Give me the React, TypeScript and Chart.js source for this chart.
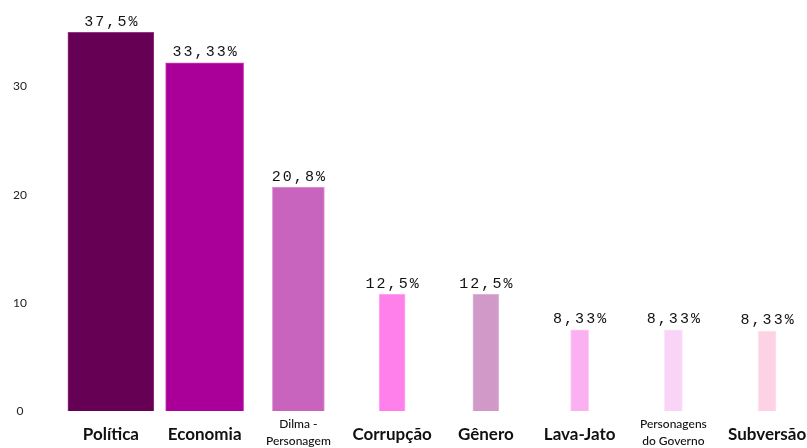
import React, { useEffect, useRef } from "react";
import { Chart, registerables } from "chart.js";

Chart.register(...registerables);

const categories: (string | string[])[] = [
  "Política",
  "Economia",
  ["Dilma -", "Personagem"],
  "Corrupção",
  "Gênero",
  "Lava-Jato",
  ["Personagens", "do Governo"],
  "Subversão",
];
const barValues = [35, 32.2, 20.7, 10.8, 10.8, 7.5, 7.5, 7.4];
const valueLabels = ["37,5%", "33,33%", "20,8%", "12,5%", "12,5%", "8,33%", "8,33%", "8,33%"];
const yTicks = [0, 10, 20, 30];

const fillColors = ["#660055", "#aa0099", "#c864bd", "#ff80ea", "#d099c8", "#fbb0f1", "#f9d4f6", "#fcd2e4"];
const edgeColors = ["#993388", "#cc44bb", "#dd99d5", "#ffaaf2", "#e0bbda", "#fdccf6", "#fbe4f9", "#fde4ee"];
const thickness = [86, 78, 52, 26, 26, 18, 18, 18];

const valueLabelPlugin = {
  id: "valueLabels",
  afterDatasetsDraw(chart: any) {
    const ctx = chart.ctx;
    ctx.save();
    ctx.font = "15px 'Liberation Mono'";
    ctx.fillStyle = "#111111";
    ctx.textAlign = "center";
    ctx.textBaseline = "bottom";
    try { (ctx as any).letterSpacing = "2px"; } catch (e) {}
    chart.data.datasets.forEach((ds: any, i: number) => {
      const meta = chart.getDatasetMeta(i);
      const el = meta.data[i];
      if (!el) return;
      ctx.fillText(valueLabels[i], el.x + 1, el.y - 3);
    });
    ctx.restore();
  },
};

export default function App() {
  const canvasRef = useRef<HTMLCanvasElement | null>(null);
  useEffect(() => {
    document.body.style.margin = "0";
    const canvas = canvasRef.current!;
    const chart = new Chart(canvas, {
      type: "bar",
      data: {
        labels: categories as any,
        datasets: categories.map((_, i) => ({
          data: categories.map((__, j) => (j === i ? barValues[i] : null)),
          backgroundColor: fillColors[i],
          borderColor: edgeColors[i],
          borderWidth: 1,
          barThickness: thickness[i],
          grouped: false,
        })) as any,
      },
      options: {
        animation: false,
        responsive: false,
        maintainAspectRatio: false,
        layout: { padding: 0 },
        plugins: {
          legend: { display: false },
          tooltip: { enabled: false },
        },
        scales: {
          x: {
            grid: { display: false },
            border: { display: false },
            afterFit: (s: any) => {
              s.height = 37;
              s.paddingLeft = 0;
              s.paddingRight = 0;
            },
            ticks: {
              color: "#111111",
              padding: 5,
              crossAlign: "far",
              autoSkip: false,
              maxRotation: 0,
              font: (c: any) =>
                c.index === 2 || c.index === 6
                  ? { family: "Lato", size: 12, weight: "500", lineHeight: 1.4 }
                  : { family: "Lato", size: 17, weight: "bold", lineHeight: 1.365 },
            },
          },
          y: {
            min: 0,
            max: 38,
            grid: { display: false },
            border: { display: false },
            afterFit: (s: any) => {
              s.width = 64;
              s.paddingTop = 0;
              s.paddingBottom = 0;
            },
            afterBuildTicks: (s: any) => { s.ticks = yTicks.map((v) => ({ value: v })); },
            ticks: {
              color: "#222222",
              padding: 29,
              crossAlign: "center",
              font: { family: "Lato", size: 12 },
            },
          },
        },
      },
      plugins: [valueLabelPlugin],
    });
    return () => chart.destroy();
  }, []);
  return (
    <div style={{ position: "absolute", left: 0, top: 0, width: 807, height: 448, overflow: "hidden" }}>
      <canvas ref={canvasRef} width={814} height={448} style={{ width: 814, height: 448, display: "block" }} />
    </div>
  );
}
